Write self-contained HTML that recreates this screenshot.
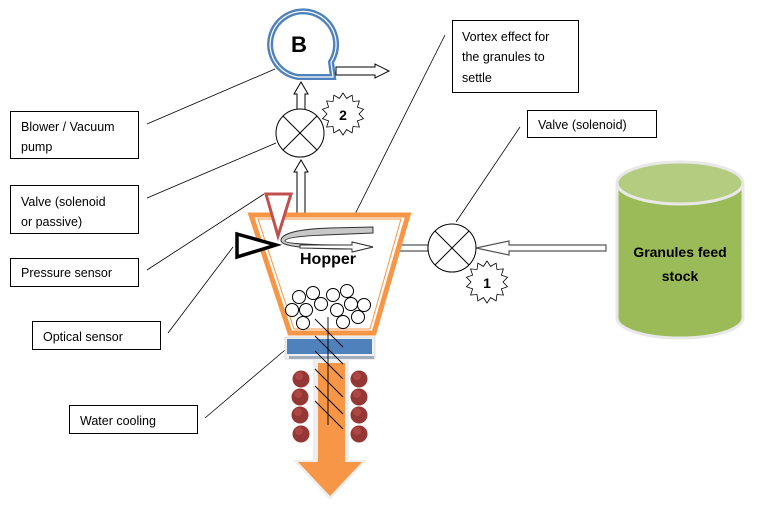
<!DOCTYPE html>
<html><head><meta charset="utf-8"><style>
html,body{margin:0;padding:0;background:#fff;}
svg{display:block;font-family:"Liberation Sans",Calibri,sans-serif;}
.lbl{fill:#000;}
</style></head><body>
<svg id="s" width="761" height="514" viewBox="0 0 761 514" xmlns="http://www.w3.org/2000/svg">
<g fill="#fff" stroke="#000" stroke-width="1">
<rect x="10.5" y="111.5" width="128" height="47"/>
<rect x="10.5" y="185.5" width="128" height="48"/>
<rect x="10.5" y="258.5" width="128" height="28"/>
<rect x="32.5" y="321.5" width="128" height="28"/>
<rect x="69.5" y="405.5" width="128" height="28"/>
<rect x="452.5" y="20.5" width="126" height="72"/>
<rect x="527.5" y="110.5" width="129" height="27"/>
</g>
<g class="lbl" font-size="12.5">
<text x="21" y="131">Blower / Vacuum</text><text x="21" y="151">pump</text>
<text x="21" y="206">Valve (solenoid</text><text x="21" y="226">or passive)</text>
<text x="21" y="277">Pressure sensor</text>
<text x="43" y="341">Optical sensor</text>
<text x="80" y="425">Water cooling</text>
<text x="462" y="41">Vortex effect for</text><text x="462" y="61">the granules to</text><text x="462" y="82">settle</text>
<text x="538" y="129">Valve (solenoid)</text>
</g>
<g stroke="#000" stroke-width="0.8">
<line x1="147" y1="124" x2="275" y2="69"/>
<line x1="147" y1="198" x2="276" y2="143"/>
<line x1="147" y1="270" x2="264" y2="194"/>
<line x1="168" y1="333" x2="233" y2="247"/>
<line x1="205" y1="418" x2="285" y2="350"/>
<line x1="445" y1="35" x2="347" y2="230"/>
<line x1="520" y1="127" x2="456" y2="222"/>
</g>
<g>
<path d="M617 185 L617 318 A63 20 0 0 0 743 318 L743 185 Z" fill="#9bbb59" stroke="#e8e8e8" stroke-width="3"/>
<ellipse cx="680" cy="183" rx="63" ry="21" fill="#b3cc7f" stroke="#e8e8e8" stroke-width="3"/>
<text x="680" y="257" text-anchor="middle" font-size="14" font-weight="bold">Granules feed</text>
<text x="680" y="281" text-anchor="middle" font-size="14" font-weight="bold">stock</text>
</g>
<path d="M606 245 L509 245 L509 241 L476 248 L509 255 L509 251 L606 251 Z" fill="#fff" stroke="#555" stroke-width="1.2"/>
<path d="M428 245 L394 245 L394 242 L383 248 L394 254 L394 251 L428 251 Z" fill="#fff" stroke="#555" stroke-width="1.2"/>
<g stroke="#000" stroke-width="1" fill="#fff">
<circle cx="452" cy="248" r="24"/>
<line x1="435" y1="231" x2="469" y2="265"/><line x1="469" y1="231" x2="435" y2="265"/>
</g>
<polygon id="st1" fill="#fff" stroke="#000" stroke-width="0.8"/>
<text x="487" y="288" text-anchor="middle" font-size="14" font-weight="bold">1</text>
<path d="M331 62 A33 33 0 1 0 298 77 L333 77 Z" fill="#fff" stroke="#4f81bd" stroke-width="6"/>
<path d="M331 62 A33 33 0 1 0 298 77 L333 77 Z" fill="none" stroke="#fff" stroke-width="1.2"/>
<text x="299" y="52" text-anchor="middle" font-size="22" font-weight="bold">B</text>
<path d="M336 67 L375 67 L375 64 L389 71 L375 78 L375 75 L336 75 Z" fill="#fff" stroke="#000" stroke-width="1"/>
<path d="M297 110 L297 94 L294 94 L301 82 L308 94 L305 94 L305 110 Z" fill="#fff" stroke="#000" stroke-width="1"/>
<path d="M297 214 L297 172 L294 172 L301 160 L308 172 L305 172 L305 214 Z" fill="#fff" stroke="#000" stroke-width="1"/>
<g stroke="#000" stroke-width="1" fill="#fff">
<circle cx="300" cy="133" r="24"/>
<line x1="283" y1="116" x2="317" y2="150"/><line x1="317" y1="116" x2="283" y2="150"/>
</g>
<polygon id="st2" fill="#fff" stroke="#000" stroke-width="0.8"/>
<text x="343" y="120" text-anchor="middle" font-size="14" font-weight="bold">2</text>
<path d="M251 215 L408 215 L374 333 L290 333 Z" fill="#fff" stroke="#f79646" stroke-width="5"/>
<path d="M258 219 L401 219 L370 329 L294 329 Z" fill="none" stroke="#f79646" stroke-width="1"/>
<path d="M373 227 L373 233 L325 235 C300 236 285 238 285 241 C285 243 300 245 352 245 L352 242 L373 247 L352 252 L352 249 C295 249 280 245 281 240 C282 233 300 229 330 228 Z" fill="#c8c8c8" stroke="#333" stroke-width="1"/>
<path d="M352 242 L373 247 L352 252 L352 249 L300 248 L300 245 L352 245 Z" fill="#fff" stroke="#333" stroke-width="1"/>
<text x="328" y="264" text-anchor="middle" font-size="16" font-weight="bold">Hopper</text>
<polygon points="266,194 291,194 278,236" fill="#fff" stroke="#c0504d" stroke-width="3"/>
<polygon points="237,234 237,257 276,245" fill="#fff" stroke="#000" stroke-width="3.5"/>
<g fill="#fff" stroke="#000" stroke-width="1">
<circle cx="299" cy="297" r="6.5"/><circle cx="313" cy="293" r="6.5"/><circle cx="333" cy="295" r="6.5"/><circle cx="347" cy="291" r="6.5"/>
<circle cx="292" cy="310" r="6.5"/><circle cx="306" cy="310" r="6.5"/><circle cx="321" cy="304" r="6.5"/><circle cx="337" cy="310" r="6.5"/><circle cx="351" cy="304" r="6.5"/><circle cx="364" cy="305" r="6.5"/>
<circle cx="303" cy="323" r="6.5"/><circle cx="343" cy="322" r="6.5"/><circle cx="358" cy="317" r="6.5"/>
</g>
<rect x="285" y="337" width="90" height="22" fill="#f0f0f0" stroke="#ddd"/>
<rect x="287" y="339" width="85" height="15" fill="#4f81bd"/>
<rect x="289" y="356" width="85" height="3" fill="#a0aec0"/>
<path d="M313 360 L349 360 L349 460 L367 460 L330 500 L293 460 L313 460 Z" fill="#eee"/>
<path d="M318 363 L345 363 L345 462 L362 462 L330 496 L298 462 L318 462 Z" fill="#f79646"/>
<g fill="#953735">
<circle cx="301" cy="379" r="8.5"/><circle cx="300" cy="397" r="8.5"/><circle cx="300" cy="415" r="8.5"/><circle cx="301" cy="434" r="8.5"/>
<circle cx="359" cy="379" r="8.5"/><circle cx="359" cy="397" r="8.5"/><circle cx="359" cy="415" r="8.5"/><circle cx="359" cy="434" r="8.5"/>
</g>
<g fill="#c0504d" opacity="0.6">
<circle cx="299" cy="376" r="4"/><circle cx="298" cy="394" r="4"/><circle cx="298" cy="412" r="4"/><circle cx="299" cy="431" r="4"/>
<circle cx="357" cy="376" r="4"/><circle cx="357" cy="394" r="4"/><circle cx="357" cy="412" r="4"/><circle cx="357" cy="431" r="4"/>
</g>
<g stroke="#000" stroke-width="0.9">
<line x1="328" y1="317" x2="328" y2="425"/>
<line x1="315" y1="319" x2="343" y2="347"/>
<line x1="315" y1="336" x2="343" y2="364"/>
<line x1="315" y1="351" x2="343" y2="379"/>
<line x1="315" y1="369" x2="343" y2="397"/>
<line x1="315" y1="386" x2="343" y2="414"/>
<line x1="315" y1="401" x2="343" y2="429"/>
</g>
<script>
function star(id,cx,cy,ro,ri,n){var p=[];for(var i=0;i<2*n;i++){var r=i%2?ri:ro;var a=Math.PI*i/n-Math.PI/2;p.push((cx+r*Math.cos(a)).toFixed(1)+","+(cy+r*Math.sin(a)).toFixed(1));}document.getElementById(id).setAttribute("points",p.join(" "));}
star("st1",487,282,21,16,14);star("st2",343,114,21,16,14);
</script>
</svg>
</body></html>
